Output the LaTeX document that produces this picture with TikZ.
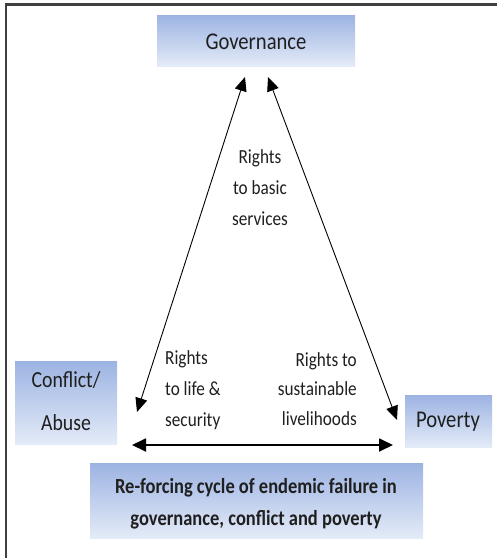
\documentclass[tikz,border=0pt]{standalone}
\usepackage{graphicx}
\usepackage{fontspec}
\setmainfont{Carlito}
\usetikzlibrary{arrows.meta}
% narrow, tall lettering
\newcommand\narrow[1]{\scalebox{0.86}[1]{#1}}
\begin{document}
\begin{tikzpicture}[x=1pt,y=-1pt,
  box/.style={inner sep=0pt, shading=axis, top color=boxtop, bottom color=boxbot, draw=none},
  lbl/.style={text=black!88, inner sep=0pt},
  conn/.style={line width=0.9pt, {Triangle[length=14pt,width=12pt]}-{Triangle[length=14pt,width=12pt]}},
  baseconn/.style={line width=1.8pt, {Triangle[length=14pt,width=13pt]}-{Triangle[length=14pt,width=13pt]}}]
  \definecolor{boxtop}{HTML}{9CB3E2}
  \definecolor{boxbot}{HTML}{E4EBF8}
  \useasboundingbox (0,0) rectangle (497,558);
  % frame edges
  \draw[line width=2.6pt, black!75] (497,4.5) -- (6,4.5) -- (6,558);

  % boxes
  \shade[box] (157,15) rectangle (355,66);
  \shade[box] (15,361) rectangle (117,444);
  \shade[box] (405,395) rectangle (492,447);
  \shade[box] (90,463) rectangle (423,538);

  % labels
  \node[lbl, font=\fontsize{24}{26}\selectfont] (gov) at (256,42) {\narrow{Governance}};
  \node[lbl, font=\fontsize{23}{43}\selectfont, align=center] (conf) at (66,401) {\narrow{Conflict/}\\\narrow{Abuse}};
  \node[lbl, font=\fontsize{24}{26}\selectfont] (pov) at (448,422) {\narrow{Poverty}};
  \node[lbl, font=\bfseries\fontsize{21.5}{32}\selectfont, align=center] (fail) at (256,504)
    {\narrow{Re-forcing cycle of endemic failure in}\\\narrow{governance, conflict and poverty}};

  \node[lbl, font=\fontsize{20}{31}\selectfont, align=center] (basic) at (260,188) {\narrow{Rights}\\\narrow{to basic}\\\narrow{services}};
  \node[lbl, font=\fontsize{20}{31}\selectfont, align=left, anchor=west] (life) at (165,390) {\narrow{Rights}\\\narrow{to life \&}\\\narrow{security}};
  \node[lbl, font=\fontsize{20}{29.5}\selectfont, align=right, anchor=east] (live) at (357,389) {\narrow{Rights to}\\\narrow{sustainable}\\\narrow{livelihoods}};

  % connector ends
  \coordinate (govL) at (245,77);
  \coordinate (govR) at (268,77);
  \coordinate (confT) at (137,412);
  \coordinate (confB) at (132,445);
  \coordinate (povT) at (397,420);
  \coordinate (povB) at (393,445);

  \draw[conn] (govL) -- (confT);
  \draw[conn] (govR) -- (povT);
  \draw[baseconn] (confB) -- (povB);
\end{tikzpicture}
\end{document}
